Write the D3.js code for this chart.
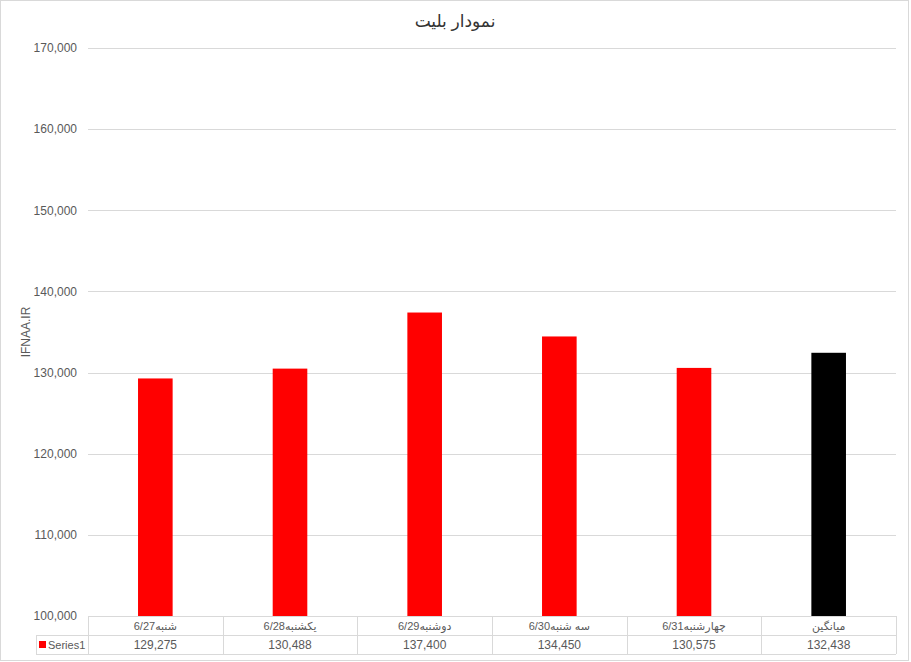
<!DOCTYPE html>
<html><head><meta charset="utf-8">
<script src="https://cdn.jsdelivr.net/npm/d3@7"></script>
<style>body{margin:0;background:#fff}svg{display:block}text{font-family:"Liberation Sans","DejaVu Sans",sans-serif}</style>
</head><body>
<svg id="c" width="911" height="662"></svg>
<script>
const categories = ["شنبه6/27","یکشنبه6/28","دوشنبه6/29","سه شنبه6/30","چهارشنبه6/31","میانگین"];
const values = [129275,130488,137400,134450,130575,132438];
const barColors = ["#ff0000","#ff0000","#ff0000","#ff0000","#ff0000","#000000"];
const yTicks = [100000,110000,120000,130000,140000,150000,160000,170000];
const seriesName = "Series1";
const title = "نمودار بلیت";
const yLabel = "IFNAA.IR";

const svg = d3.select("#c");
const W = 911, H = 662;
const L = 88, R = 896, T = 48, B = 616;
const grid = "#d9d9d9", txt = "#595959";
const fmt = d3.format(",");

svg.append("rect").attr("x",0.5).attr("y",0.5).attr("width",908).attr("height",660)
  .attr("fill","#fff").attr("stroke",grid);

const x = d3.scaleBand().domain(categories).range([L,R]).paddingInner(0).paddingOuter(0);
const y = d3.scaleLinear().domain([100000,170000]).range([B,T]);

// gridlines
svg.append("g").selectAll("line").data(yTicks).join("line")
  .attr("x1",L).attr("x2",R).attr("y1",d=>Math.round(y(d))+0.5).attr("y2",d=>Math.round(y(d))+0.5)
  .attr("stroke",grid).attr("stroke-width",1);

// y axis labels
const yAxis = d3.axisLeft(y).tickValues(yTicks).tickFormat(fmt).tickSize(0).tickPadding(0);
const ga = svg.append("g").attr("transform",`translate(${L-11},0)`).call(yAxis);
ga.select(".domain").remove();
ga.selectAll("text").attr("fill",txt).style("font-size","12px").attr("font-family","'Liberation Sans',sans-serif");

// bars
const bw = x.bandwidth()*0.257;
svg.append("g").selectAll("rect").data(values).join("rect")
  .attr("x",(d,i)=>x(categories[i])+x.bandwidth()/2-bw/2)
  .attr("width",bw)
  .attr("y",d=>y(d)).attr("height",d=>B-y(d))
  .attr("fill",(d,i)=>barColors[i]);

// table
const rowH = 19;
const tb = svg.append("g");
const hl = (x1,x2,yy)=>tb.append("line").attr("x1",x1).attr("x2",x2).attr("y1",yy+0.5).attr("y2",yy+0.5).attr("stroke",grid);
const vl = (xx,y1,y2)=>tb.append("line").attr("x1",xx+0.5).attr("x2",xx+0.5).attr("y1",y1).attr("y2",y2).attr("stroke",grid);
hl(L,R,B);
hl(36,R,B+rowH);
hl(36,R,B+2*rowH);
vl(36,B+rowH,B+2*rowH);
categories.forEach(c=>vl(Math.round(x(c)),B,B+2*rowH));
vl(R,B,B+2*rowH);

tb.selectAll("text.cat").data(categories).join("text").attr("class","cat")
  .attr("x",d=>x(d)+x.bandwidth()/2).attr("y",B+14)
  .attr("text-anchor","middle").attr("fill",txt).style("font-size","11px")
  .text(d=>d);
tb.selectAll("text.val").data(values).join("text").attr("class","val")
  .attr("x",(d,i)=>x(categories[i])+x.bandwidth()/2).attr("y",B+rowH+14)
  .attr("text-anchor","middle").attr("fill",txt).style("font-size","12px")
  .text(d=>fmt(d));
tb.append("rect").attr("x",39).attr("y",B+rowH+6).attr("width",7).attr("height",7).attr("fill",barColors[0]);
tb.append("text").attr("x",48).attr("y",B+rowH+14).attr("fill",txt).style("font-size","11px").text(seriesName);

// title
svg.append("text").attr("x",455).attr("y",27).attr("text-anchor","middle")
  .attr("fill","#333").style("font-size","17px").attr("font-family","'DejaVu Sans',sans-serif").text(title);

// y label
svg.append("text").attr("transform",`translate(30,${(T+B)/2}) rotate(-90)`)
  .attr("text-anchor","middle").attr("fill",txt).style("font-size","12px").text(yLabel);
</script>
</body></html>
